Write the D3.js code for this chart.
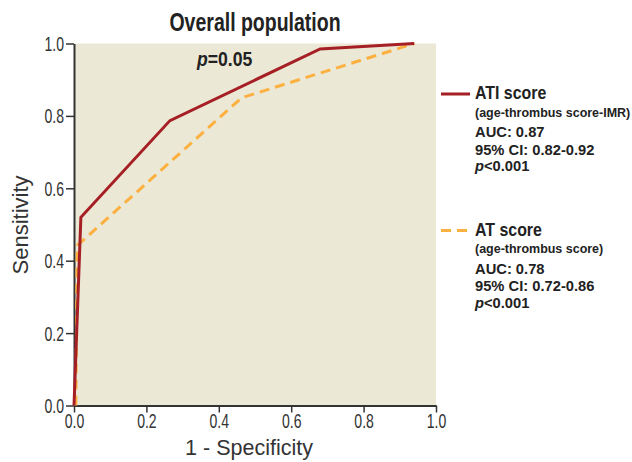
<!DOCTYPE html>
<html>
<head>
<meta charset="utf-8">
<title>ROC - Overall population</title>
<script src="https://d3js.org/d3.v7.min.js"></script>
<style>
  body { margin: 0; background: #fff; }
  text { font-family: "Liberation Sans", Arial, sans-serif; }
</style>
</head>
<body>
<div id="chart"></div>
<script>
// ROC curve points
var atiFpr = [0, 0.019, 0.265, 0.68, 0.94];
var atiTpr = [0, 0.52, 0.787, 0.985, 1.0];
var atFpr = [0.005, 0.009, 0.463, 0.94];
var atTpr = [0, 0.442, 0.85, 1.0];

var ticks = [0, 0.2, 0.4, 0.6, 0.8, 1.0];

var atiLegend = ["(age-thrombus score-IMR)", "AUC: 0.87", "95% CI: 0.82-0.92", "p<0.001"];
var atLegend = ["(age-thrombus score)", "AUC: 0.78", "95% CI: 0.72-0.86", "p<0.001"];

var width = 632, height = 462;
var svg = d3.select("#chart").append("svg")
  .attr("width", width).attr("height", height);

var x = d3.scaleLinear().domain([0, 1]).range([74, 436]);
var y = d3.scaleLinear().domain([0, 1]).range([405.5, 43.5]);

// condensed-looking text: squeeze a normal font horizontally
function narrowText(parent, tx, ty, sx, size, weight) {
  return parent.append("text")
    .attr("transform", "translate(" + tx + "," + ty + ") scale(" + sx + ",1)")
    .style("font-size", size + "px")
    .style("font-weight", weight)
    .attr("fill", "#222");
}

// plot background
svg.append("rect")
  .attr("x", x(0)).attr("y", y(1))
  .attr("width", x(1) - x(0)).attr("height", y(0) - y(1))
  .attr("fill", "#ece8d6");

// axes
var yAxis = svg.append("g")
  .attr("transform", "translate(" + x(0) + ",0)")
  .call(d3.axisLeft(y).tickValues(ticks).tickFormat(d3.format(".1f")).tickSize(8).tickSizeOuter(0));
var xAxis = svg.append("g")
  .attr("transform", "translate(0," + y(0) + ")")
  .call(d3.axisBottom(x).tickValues(ticks).tickFormat(d3.format(".1f")).tickSize(7).tickSizeOuter(0));

[xAxis, yAxis].forEach(function(a) {
  a.select(".domain").attr("stroke", "#333").attr("stroke-width", 2);
  a.selectAll(".tick line").attr("stroke", "#333").attr("stroke-width", 1.5);
  a.selectAll(".tick text")
    .attr("fill", "#333")
    .style("font-size", "19.5px")
    .style("font-family", "'Liberation Sans', Arial, sans-serif");
});
yAxis.selectAll(".tick text")
  .attr("transform", "scale(0.72,1)")
  .attr("x", -10 / 0.72).attr("dy", "0.36em");
xAxis.selectAll(".tick text")
  .attr("transform", "scale(0.72,1)")
  .attr("y", 9);

// axis titles
svg.append("text")
  .attr("x", 249).attr("y", 455)
  .attr("text-anchor", "middle")
  .style("font-size", "21.5px")
  .attr("fill", "#333")
  .text("1 - Specificity");

svg.append("text")
  .attr("transform", "translate(28,225) rotate(-90)")
  .attr("text-anchor", "middle")
  .style("font-size", "22px")
  .attr("fill", "#333")
  .text("Sensitivity");

// title
narrowText(svg, 255, 31, 0.75, 26, "bold")
  .attr("text-anchor", "middle")
  .text("Overall population");

// p value
var pt = narrowText(svg, 197, 66, 0.84, 21, "bold");
pt.append("tspan").style("font-style", "italic").text("p");
pt.append("tspan").text("=0.05");

// curves
var line = d3.line()
  .x(function(d) { return x(d[0]); })
  .y(function(d) { return y(d[1]); });

var atData = atFpr.map(function(v, i) { return [v, atTpr[i]]; });
var atiData = atiFpr.map(function(v, i) { return [v, atiTpr[i]]; });

svg.append("path")
  .datum(atData)
  .attr("d", line)
  .attr("fill", "none")
  .attr("stroke", "#fbb03f")
  .attr("stroke-width", 3)
  .attr("stroke-dasharray", "10,6");

svg.append("path")
  .datum(atiData)
  .attr("d", line)
  .attr("fill", "none")
  .attr("stroke", "#a51f24")
  .attr("stroke-width", 3);

// legend
var lineOffsets = [17.5, 38, 55.5, 72];
function legendBlock(top, name, lines, color, dash) {
  var g = svg.append("g");
  g.append("line")
    .attr("x1", 441).attr("x2", 470)
    .attr("y1", top - 5).attr("y2", top - 5)
    .attr("stroke", color).attr("stroke-width", 3)
    .attr("stroke-dasharray", dash);
  narrowText(g, 475, top, 0.91, 17.5, "bold").text(name);
  lines.forEach(function(s, i) {
    var t = narrowText(g, 475, top + lineOffsets[i], i === 0 ? 0.96 : 0.95, i === 0 ? 13 : 15.5, "bold");
    if (s.charAt(0) === "p") {
      t.append("tspan").style("font-style", "italic").text("p");
      t.append("tspan").text(s.slice(1));
    } else {
      t.text(s);
    }
  });
}
legendBlock(99, "ATI score", atiLegend, "#a51f24", null);
legendBlock(235.5, "AT score", atLegend, "#fbb03f", "10,6");
</script>
</body>
</html>
